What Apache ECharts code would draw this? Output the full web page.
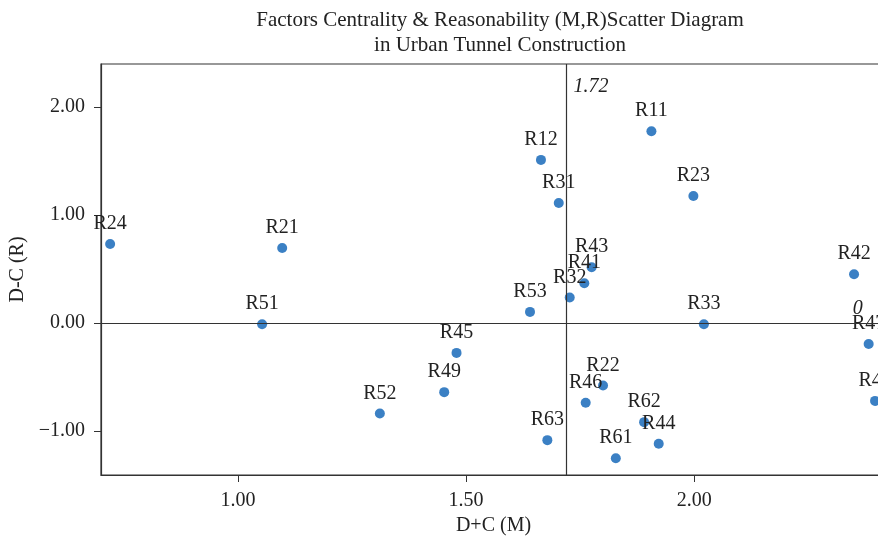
<!DOCTYPE html>
<html>
<head>
<meta charset="utf-8">
<style>
	html, body { margin: 0; padding: 0; background: #fff; }
	#chart { width: 878px; height: 539px; }
</style>
<script src="https://cdn.jsdelivr.net/npm/echarts@6/dist/echarts.min.js"></script>
</head>
<body>
<div id="chart"></div>
<script>
// factor names and their (M, R) values
var factors = ['R24', 'R21', 'R51', 'R12', 'R31', 'R43', 'R41', 'R32', 'R53', 'R45', 'R49', 'R52',
	'R63', 'R46', 'R22', 'R62', 'R44', 'R61', 'R11', 'R23', 'R42', 'R33', 'R47', 'R48'];
var centrality = [0.720, 1.097, 1.053, 1.664, 1.703, 1.775, 1.759, 1.727, 1.640, 1.479, 1.452, 1.311,
	1.678, 1.762, 1.800, 1.890, 1.922, 1.828, 1.906, 1.998, 2.350, 2.021, 2.382, 2.396];
var reason = [0.732, 0.695, -0.012, 1.511, 1.112, 0.516, 0.368, 0.235, 0.102, -0.278, -0.642, -0.840,
	-1.087, -0.741, -0.580, -0.920, -1.121, -1.254, 1.777, 1.177, 0.451, -0.012, -0.195, -0.723];

// reference lines (mean of M, and R = 0)
var refM = 1.72;
var refR = 0;

// axis ticks
var xTicks = [1.0, 1.5, 2.0];
var yTicks = [-1, 0, 1, 2];

var font = 'Liberation Serif';
var ink = '#333';

var points = factors.map(function(name, i) {
	return { name: name, value: [centrality[i], reason[i]] };
});

function fmt(v) {
	var s = Math.abs(v).toFixed(2);
	return v < 0 ? '\u2212' + s : s;
}

var myChart = echarts.init(document.getElementById('chart'));
var option = {
	animation: false,
	backgroundColor: '#fff',
	title: {
		text: 'Factors Centrality & Reasonability (M,R)Scatter Diagram\nin Urban Tunnel Construction',
		left: 495,
		top: 3,
		textAlign: 'center',
		textStyle: {
			fontFamily: font,
			fontWeight: 'normal',
			fontSize: 21,
			lineHeight: 25,
			color: '#222'
		}
	},
	grid: {
		left: 101,
		top: 64,
		width: 785,
		bottom: 64,
		outerBoundsMode: 'none',
		containLabel: false,
		show: true,
		borderColor: ink,
		borderWidth: 1.2
	},
	xAxis: {
		type: 'value',
		min: 0.70,
		max: 2.42,
		name: 'D+C (M)',
		nameLocation: 'middle',
		nameGap: 40,
		nameTextStyle: { fontFamily: font, fontSize: 20, color: '#222' },
		splitLine: { show: false },
		axisLine: { onZero: false, lineStyle: { color: ink, width: 1.2 } },
		axisTick: { show: true, inside: false, length: 7, customValues: xTicks, lineStyle: { color: ink } },
		axisLabel: {
			customValues: xTicks,
			margin: 16,
			fontFamily: font,
			fontSize: 20,
			color: '#222',
			formatter: fmt
		}
	},
	yAxis: {
		type: 'value',
		min: -1.41,
		max: 2.40,
		name: 'D-C (R)',
		nameLocation: 'middle',
		nameGap: 66,
		nameTextStyle: { fontFamily: font, fontSize: 20, color: '#222' },
		splitLine: { show: false },
		axisLine: { onZero: false, lineStyle: { color: ink, width: 1.2 } },
		axisTick: { show: true, inside: false, length: 7, customValues: yTicks, lineStyle: { color: ink } },
		axisLabel: {
			customValues: yTicks,
			margin: 16,
			fontFamily: font,
			fontSize: 20,
			color: '#222',
			formatter: fmt
		}
	},
	series: [{
		type: 'scatter',
		data: points,
		symbolSize: 10,
		itemStyle: { color: '#3b80c4', opacity: 1 },
		label: {
			show: true,
			position: 'top',
			distance: 5,
			formatter: '{b}',
			fontFamily: font,
			fontSize: 20,
			color: '#222'
		},
		markLine: {
			silent: true,
			symbol: 'none',
			label: { show: false },
			lineStyle: { color: ink, width: 1.2, type: 'solid' },
			data: [{ xAxis: refM }, { yAxis: refR }]
		},
		markPoint: {
			silent: true,
			symbol: 'circle',
			symbolSize: 0,
			label: {
				show: true,
				fontFamily: font,
				fontStyle: 'italic',
				fontSize: 20,
				color: '#222'
			},
			data: [
				{ coord: [refM, 2.19], value: refM.toFixed(2), label: { position: 'right', distance: 7, formatter: refM.toFixed(2) } },
				{ coord: [2.358, refR], value: refR, label: { position: 'top', distance: 4, formatter: String(refR) } }
			]
		}
	}]
};
myChart.setOption(option);
window.addEventListener("resize", function() {
	myChart.resize();
});
</script>
</body>
</html>
